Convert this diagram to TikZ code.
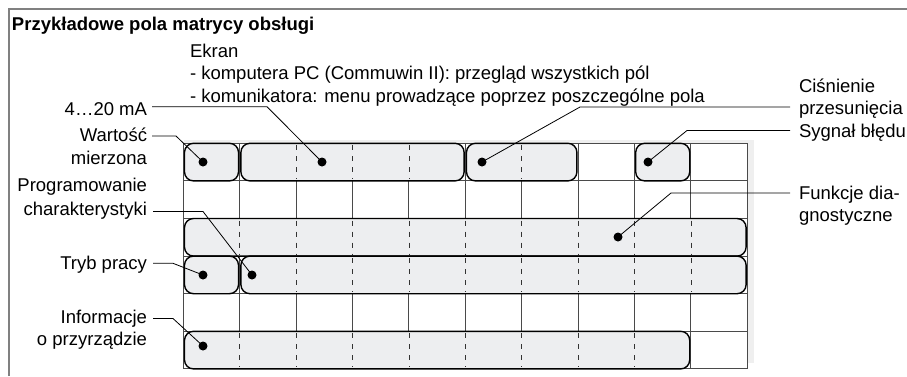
\documentclass[tikz,border=0pt]{standalone}
\usepackage{fontspec}
\setmainfont{Liberation Sans}
\definecolor{framegray}{HTML}{808080}
\definecolor{gridgray}{HTML}{4A4A4A}
\definecolor{fieldfill}{HTML}{EDEEF0}
\definecolor{backfill}{HTML}{EFEFEF}
\begin{document}
\begin{tikzpicture}[x=1pt,y=-1pt,
  txt/.style={font=\fontsize{18.5}{22.3}\selectfont, inner sep=0pt, outer sep=0pt},
  lbl/.style={txt, anchor=base east},
  rlbl/.style={txt, anchor=base west},
  field/.style={draw=black, line width=1.4pt, rounded corners=9pt, fill=fieldfill},
  gridln/.style={draw=gridgray, line width=0.9pt},
  dashln/.style={draw=black!80, line width=0.8pt, dash pattern=on 5pt off 6pt},
  pin/.style={circle, fill=black, inner sep=0pt, minimum size=9pt},
  leader/.style={draw=black, line width=0.8pt}]
\useasboundingbox (0,0) rectangle (907,376);
\fill[white] (0,0) rectangle (907,376);
% outer frame (top and left edges)
\draw[framegray, line width=1.5pt] (9,376) -- (9,9) -- (907,9);

% title and screen description
\node[txt, font=\fontsize{18.5}{22.3}\selectfont\bfseries, anchor=base west] (title) at (12,30.5) {Przykładowe pola matrycy obsługi};
\node[rlbl] (ekran1) at (190,57) {Ekran};
\node[rlbl] (ekran2) at (190,79.5) {- komputera PC (Commuwin II): przegląd wszystkich pól};
\node[rlbl] (ekran3) at (190,102) {- komunikatora: menu prowadzące poprzez poszczególne pola};

% soft background behind the matrix
\fill[backfill] (184,139.5) rectangle (753.5,363);

% the matrix: 10 columns x 6 rows
\begin{scope}[shift={(183.3,143.3)}, x=56.4pt, y=-37.6pt]
  \draw[gridln, fill=white] (0,0) rectangle (10,6);
  \foreach \c in {1,...,9} \draw[gridln] (\c,0) -- (\c,6);
  \foreach \r in {1,...,5} \draw[gridln] (0,\r) -- (10,\r);
  % operating fields
  \foreach \a/\b/\r in {0/1/0, 1/5/0, 5/7/0, 8/9/0, 0/10/2, 0/1/3, 1/10/3, 0/9/5}{
    \draw[field] ([xshift=1.2pt]\a,\r) rectangle ([xshift=-1.2pt]\b,\r+1);
  }
  % column divisions inside the fields
  \foreach \c/\r in {2/0,3/0,4/0,6/0,
                     1/2,2/2,3/2,4/2,5/2,6/2,7/2,8/2,9/2,
                     2/3,3/3,4/3,5/3,6/3,7/3,8/3,9/3,
                     1/5,2/5,3/5,4/5,5/5,6/5,7/5,8/5}{
    \draw[dashln] ([yshift=-2pt]\c,\r) -- ([yshift=2pt]\c,\r+1);
  }
\end{scope}

% marker dots
\node[pin] (d1) at (203,162) {};
\node[pin] (d2) at (322,162) {};
\node[pin] (d3) at (482,162) {};
\node[pin] (d4) at (648,162) {};
\node[pin] (d5) at (618,237) {};
\node[pin] (d6) at (203,275) {};
\node[pin] (d7) at (252,275) {};
\node[pin] (d8) at (203,346) {};

% left labels
\node[lbl] (mA) at (147,115.5) {4…20 mA};
\node[lbl] (wm1) at (147,141.5) {Wartość};
\node[lbl] (wm2) at (147,164) {mierzona};
\node[lbl] (pk1) at (147,191.5) {Programowanie};
\node[lbl] (pk2) at (147,215) {charakterystyki};
\node[lbl] (tp) at (147,269) {Tryb pracy};
\node[lbl] (ip1) at (147,323) {Informacje};
\node[lbl] (ip2) at (147,345.5) {o przyrządzie};

% right labels
\node[rlbl] (cp1) at (799,92) {Ciśnienie};
\node[rlbl] (cp2) at (799,114) {przesunięcia};
\node[rlbl] (sb) at (799,137) {Sygnał błędu};
\node[rlbl] (fd1) at (799,199) {Funkcje dia-};
\node[rlbl] (fd2) at (799,221) {gnostyczne};

% leader line anchor points
\coordinate (mAs) at (152,106.7);  \coordinate (mAb) at (267,106.7);
\coordinate (wms) at (152,136);    \coordinate (wmb) at (176,136);
\coordinate (pks) at (153,211.5);  \coordinate (pkb) at (203,211.5);
\coordinate (tps) at (153,263.3);  \coordinate (tpb) at (173,263.3);
\coordinate (ips) at (153,318.5);  \coordinate (ipb) at (173,318.5);
\coordinate (cpe) at (790,107);    \coordinate (cpb) at (580,107);
\coordinate (sbe) at (790,130.5);  \coordinate (sbb) at (687,130.5);
\coordinate (fde) at (790,193);    \coordinate (fdb) at (671,193);

% leaders
\draw[leader] (mAs) -- (mAb) -- (d2.center);
\draw[leader] (wms) -- (wmb) -- (d1.center);
\draw[leader] (pks) -- (pkb) -- (d7.center);
\draw[leader] (tps) -- (tpb) -- (d6.center);
\draw[leader] (ips) -- (ipb) -- (d8.center);
\draw[leader] (cpe) -- (cpb) -- (d3.center);
\draw[leader] (sbe) -- (sbb) -- (d4.center);
\draw[leader] (fde) -- (fdb) -- (d5.center);
\end{tikzpicture}
\end{document}
